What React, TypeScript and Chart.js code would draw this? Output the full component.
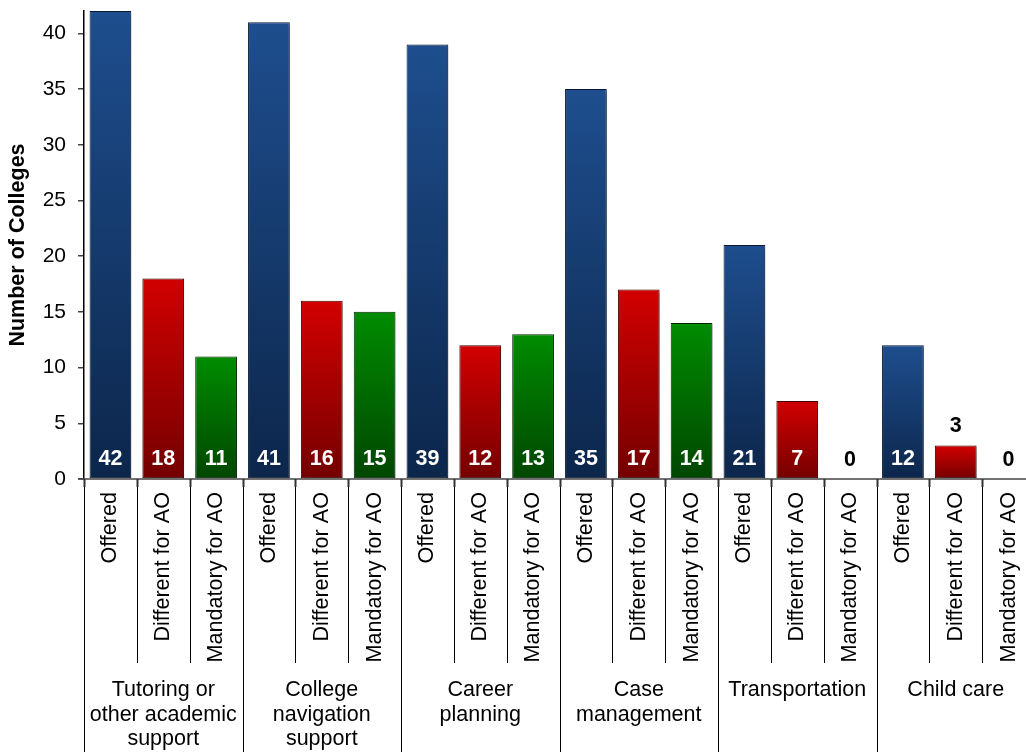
import React, { useEffect, useRef } from "react";
import { Chart, registerables } from "chart.js";

Chart.register(...registerables);

// Service categories (group labels, split into lines)
const groupLabels: string[][] = [
  ["Tutoring or", "other academic", "support"],
  ["College", "navigation", "support"],
  ["Career", "planning"],
  ["Case", "management"],
  ["Transportation"],
  ["Child care"],
];

const seriesNames = ["Offered", "Different for AO", "Mandatory for AO"];

// Number of colleges per category
const offered = [42, 41, 39, 35, 21, 12];
const differentForAO = [18, 16, 12, 17, 7, 3];
const mandatoryForAO = [11, 15, 13, 14, 0, 0];

const yTicks = [0, 5, 10, 15, 20, 25, 30, 35, 40];
const yMax = 42;

const FONT = "'Liberation Sans', Arial, sans-serif";

const palette = [
  { top: "#1E4E8E", bottom: "#0C264B", border: "#081a33" },
  { top: "#D20000", bottom: "#740000", border: "#3f0000" },
  { top: "#008C00", bottom: "#004600", border: "#002800" },
];

const seriesValues = [offered, differentForAO, mandatoryForAO];
const labels: string[] = [];
const values: number[] = [];
groupLabels.forEach((g, gi) => {
  seriesNames.forEach((s, si) => {
    labels.push(g.join(" ") + " | " + s);
    values.push(seriesValues[si][gi]);
  });
});

const annotationPlugin = {
  id: "tableAxis",
  beforeDatasetsDraw(chart: any) {
    const ctx = chart.ctx;
    ctx.save();
    ctx.shadowColor = "rgba(0,0,0,0.35)";
    ctx.shadowBlur = 3;
    ctx.shadowOffsetX = 2;
    ctx.shadowOffsetY = 2;
  },
  afterDatasetsDraw(chart: any) {
    chart.ctx.restore();
  },
  afterDraw(chart: any) {
    const ctx = chart.ctx;
    const area = chart.chartArea;
    const yScale = chart.scales.y;
    const base = yScale.getPixelForValue(0);
    const n = values.length;
    const slot = (area.right - area.left) / n;
    const bottom = chart.height;

    ctx.save();
    // horizontal category axis
    ctx.strokeStyle = "#444";
    ctx.lineWidth = 1.5;
    ctx.beginPath();
    ctx.moveTo(area.left - 6, base);
    ctx.lineTo(area.right, base);
    ctx.stroke();

    // separators between bars and between groups
    for (let i = 0; i <= n; i++) {
      const x = Math.round(area.left + i * slot) + 0.5;
      const isGroup = i % 3 === 0;
      ctx.strokeStyle = "#000";
      ctx.lineWidth = 1;
      ctx.beginPath();
      ctx.moveTo(x, base);
      ctx.lineTo(x, isGroup ? bottom : base + 184);
      ctx.stroke();
      ctx.strokeStyle = "#333";
      ctx.lineWidth = 2;
      ctx.beginPath();
      ctx.moveTo(x, base);
      ctx.lineTo(x, base + 8);
      ctx.stroke();
    }

    // rotated series labels
    ctx.fillStyle = "#000";
    ctx.font = `21.6px ${FONT}`;
    for (let i = 0; i < n; i++) {
      const cx = area.left + (i + 0.5) * slot;
      ctx.save();
      ctx.translate(cx, base + 13);
      ctx.rotate(-Math.PI / 2);
      ctx.textAlign = "right";
      ctx.textBaseline = "middle";
      ctx.fillText(seriesNames[i % 3], 0, 0);
      ctx.restore();
    }

    // group labels
    ctx.font = `21.5px ${FONT}`;
    ctx.textAlign = "center";
    ctx.textBaseline = "alphabetic";
    groupLabels.forEach((lines, gi) => {
      const cx = area.left + (gi * 3 + 1.5) * slot;
      lines.forEach((line, li) => {
        ctx.fillText(line, cx, base + 217 + li * 24.7);
      });
    });

    // value labels
    const meta = chart.getDatasetMeta(0);
    ctx.font = `bold 21.5px ${FONT}`;
    ctx.textAlign = "center";
    ctx.textBaseline = "middle";
    meta.data.forEach((bar: any, i: number) => {
      const v = values[i];
      if (v >= 5) {
        ctx.fillStyle = "#fff";
        ctx.fillText(String(v), bar.x, base - 20);
      } else {
        ctx.fillStyle = "#000";
        ctx.fillText(String(v), bar.x, bar.y - 19);
      }
    });
    ctx.restore();
  },
};

export default function App() {
  const canvasRef = useRef<HTMLCanvasElement | null>(null);

  useEffect(() => {
    const canvas = canvasRef.current;
    if (!canvas) return;
    const chart = new Chart(canvas, {
      type: "bar",
      data: {
        labels,
        datasets: [
          {
            data: values,
            backgroundColor: (c: any) => {
              const p = palette[c.dataIndex % 3];
              const chartRef = c.chart;
              if (!chartRef.chartArea || c.type !== "data") return p.top;
              const ys = chartRef.scales.y;
              const top = ys.getPixelForValue(c.raw as number);
              const bot = ys.getPixelForValue(0);
              if (bot - top < 1) return p.top;
              const g = chartRef.ctx.createLinearGradient(0, top, 0, bot);
              g.addColorStop(0, p.top);
              g.addColorStop(1, p.bottom);
              return g;
            },
            borderColor: (c: any) => palette[c.dataIndex % 3].border,
            borderWidth: 1,
            borderSkipped: false,
            categoryPercentage: 1,
            barPercentage: 0.79,
          },
        ],
      },
      options: {
        responsive: false,
        animation: false,
        devicePixelRatio: 1,
        layout: { padding: { top: 11, right: 5, bottom: 273, left: 0 } },
        plugins: {
          legend: { display: false },
          tooltip: { enabled: false },
        },
        scales: {
          x: { display: false, offset: true },
          y: {
            min: 0,
            max: yMax,
            afterFit: (s: any) => {
              s.width = 84;
              s.paddingTop = 0;
            },
            afterBuildTicks: (s: any) => {
              s.ticks = yTicks.map((v) => ({ value: v }));
            },
            ticks: {
              font: { family: FONT, size: 21 },
              color: "#000",
              padding: 12,
            },
            grid: {
              display: true,
              drawOnChartArea: false,
              drawTicks: true,
              tickLength: 6,
              color: "#444",
              lineWidth: 1.5,
            },
            border: { display: true, color: "#000", width: 1.5 },
            title: {
              display: true,
              text: "Number of Colleges",
              font: { family: FONT, size: 21.5, weight: "bold" },
              color: "#000",
              padding: { top: 5, bottom: 0 },
            },
          },
        },
      },
      plugins: [annotationPlugin],
    });
    return () => chart.destroy();
  }, []);

  return (
    <div
      style={{
        position: "fixed",
        left: 0,
        top: 0,
        width: 1026,
        height: 752,
        overflow: "hidden",
        background: "#fff",
      }}
    >
      <canvas ref={canvasRef} width={1040} height={752} />
    </div>
  );
}
